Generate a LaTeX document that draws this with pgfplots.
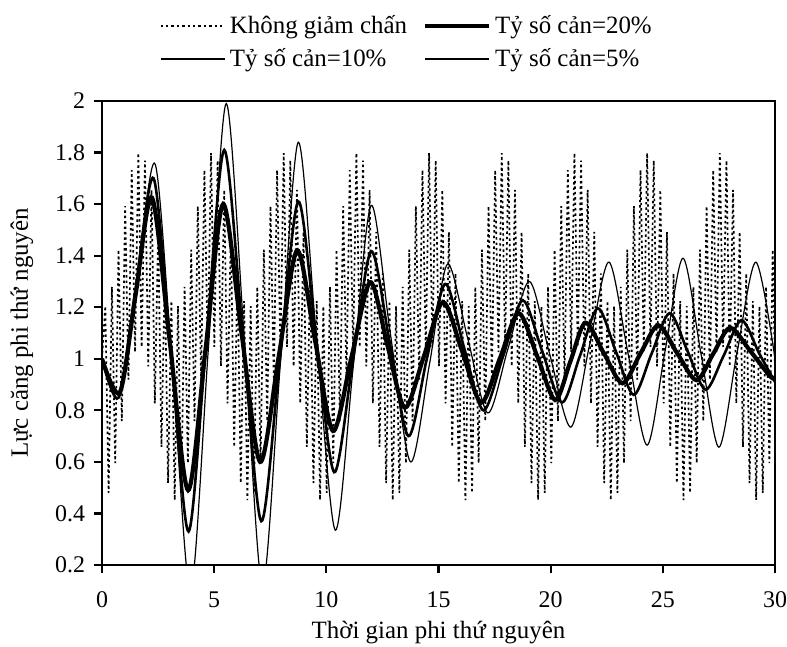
\documentclass[border=0pt]{standalone}
\usepackage{fontspec}
\setmainfont{Liberation Serif}
\usepackage{pgfplots}
\pgfplotsset{compat=1.18}

\begin{document}
\begin{tikzpicture}
\path[use as bounding box] (-51bp,-41bp) rectangle (342.5bp,282.5bp);
\begin{axis}[
    scale only axis,
    width=336.5bp, height=232bp,
    xmin=0, xmax=30, ymin=0.2, ymax=2,
    xtick={0,5,...,30},
    ytick={0.2,0.4,...,2.01},
    tick align=outside,
    xtick pos=left, ytick pos=left,
    major tick length=4bp,
    tick style={line width=1.1bp, black},
    axis line style={line width=1.4bp},
    /pgf/number format/assume math mode=true,
    ticklabel style={font=\fontsize{12}{14}\selectfont},
    xticklabel style={yshift=-6bp},
    yticklabel style={xshift=-1bp},
    xlabel={Thời gian phi thứ nguyên},
    ylabel={Lực căng phi thứ nguyên},
    label style={font=\fontsize{12.5}{15}\selectfont},
    ylabel style={at={(axis description cs:-0.119,0.5)}, anchor=center},
    xlabel style={at={(axis description cs:0.5,-0.145)}, anchor=center},
    no markers,
    legend columns=2,
    legend cell align=left,
    legend style={draw=none, fill=none, font=\fontsize{12.5}{15}\selectfont,
        at={(axis description cs:0.454,1.05)}, anchor=south,
        row sep=2pt,
        /tikz/every even column/.append style={column sep=6bp}},
    legend image code/.code={\draw[#1] (0bp,0bp) -- (32bp,0bp);},
]
% khong giam chan (undamped)
\addplot[black, line width=0.85bp, dash pattern=on 1.2bp off 1.5bp] coordinates {
(0.000,1.000) (0.147,1.204) (0.295,0.480) (0.442,1.279) (0.589,0.595) (0.736,1.423) (0.884,0.758) (1.031,1.592) (1.178,0.919) (1.325,1.732) (1.473,1.026) (1.620,1.798) (1.767,1.046) (1.915,1.769) (2.062,0.971) (2.209,1.655) (2.356,0.827) (2.504,1.492) (2.651,0.658) (2.798,1.331) (2.945,0.518) (3.093,1.224)
(3.240,0.452) (3.387,1.204) (3.535,0.480) (3.682,1.279) (3.829,0.595) (3.976,1.423) (4.124,0.758) (4.271,1.592) (4.418,0.919) (4.565,1.732) (4.713,1.026) (4.860,1.798) (5.007,1.046) (5.155,1.769) (5.302,0.971) (5.449,1.655) (5.596,0.827) (5.744,1.492) (5.891,0.658) (6.038,1.331) (6.185,0.518) (6.333,1.224)
(6.480,0.452) (6.627,1.204) (6.775,0.480) (6.922,1.279) (7.069,0.595) (7.216,1.423) (7.364,0.758) (7.511,1.592) (7.658,0.919) (7.805,1.732) (7.953,1.026) (8.100,1.798) (8.247,1.046) (8.395,1.769) (8.542,0.971) (8.689,1.655) (8.836,0.827) (8.984,1.492) (9.131,0.658) (9.278,1.331) (9.425,0.518) (9.573,1.224)
(9.720,0.452) (9.867,1.204) (10.015,0.480) (10.162,1.279) (10.309,0.595) (10.456,1.423) (10.604,0.758) (10.751,1.592) (10.898,0.919) (11.045,1.732) (11.193,1.026) (11.340,1.798) (11.487,1.046) (11.635,1.769) (11.782,0.971) (11.929,1.655) (12.076,0.827) (12.224,1.492) (12.371,0.658) (12.518,1.331) (12.665,0.518) (12.813,1.224)
(12.960,0.452) (13.107,1.204) (13.255,0.480) (13.402,1.279) (13.549,0.595) (13.696,1.423) (13.844,0.758) (13.991,1.592) (14.138,0.919) (14.285,1.732) (14.433,1.026) (14.580,1.798) (14.727,1.046) (14.875,1.769) (15.022,0.971) (15.169,1.655) (15.316,0.827) (15.464,1.492) (15.611,0.658) (15.758,1.331) (15.905,0.518) (16.053,1.224)
(16.200,0.452) (16.347,1.204) (16.495,0.480) (16.642,1.279) (16.789,0.595) (16.936,1.423) (17.084,0.758) (17.231,1.592) (17.378,0.919) (17.525,1.732) (17.673,1.026) (17.820,1.798) (17.967,1.046) (18.115,1.769) (18.262,0.971) (18.409,1.655) (18.556,0.827) (18.704,1.492) (18.851,0.658) (18.998,1.331) (19.145,0.518) (19.293,1.224)
(19.440,0.452) (19.587,1.204) (19.735,0.480) (19.882,1.279) (20.029,0.595) (20.176,1.423) (20.324,0.758) (20.471,1.592) (20.618,0.919) (20.765,1.732) (20.913,1.026) (21.060,1.798) (21.207,1.046) (21.355,1.769) (21.502,0.971) (21.649,1.655) (21.796,0.827) (21.944,1.492) (22.091,0.658) (22.238,1.331) (22.385,0.518) (22.533,1.224)
(22.680,0.452) (22.827,1.204) (22.975,0.480) (23.122,1.279) (23.269,0.595) (23.416,1.423) (23.564,0.758) (23.711,1.592) (23.858,0.919) (24.005,1.732) (24.153,1.026) (24.300,1.798) (24.447,1.046) (24.595,1.769) (24.742,0.971) (24.889,1.655) (25.036,0.827) (25.184,1.492) (25.331,0.658) (25.478,1.331) (25.625,0.518) (25.773,1.224)
(25.920,0.452) (26.067,1.204) (26.215,0.480) (26.362,1.279) (26.509,0.595) (26.656,1.423) (26.804,0.758) (26.951,1.592) (27.098,0.919) (27.245,1.732) (27.393,1.026) (27.540,1.798) (27.687,1.046) (27.835,1.769) (27.982,0.971) (28.129,1.655) (28.276,0.827) (28.424,1.492) (28.571,0.658) (28.718,1.331) (28.865,0.518) (29.013,1.224)
(29.160,0.452) (29.307,1.204) (29.455,0.480) (29.602,1.279) (29.749,0.595) (29.896,1.423) (30.044,0.758)
};
\addlegendentry{Không giảm chấn}
% ty so can 20%
\addplot[black, line width=2.1bp, smooth] coordinates {
(0,1.0) (0.8,0.87) (1.5,1.25) (2.23,1.625) (3.03,1.06) (3.84,0.49) (4.62,1.04) (5.4,1.60) (6.22,1.10) (7.05,0.60) (7.88,1.01) (8.7,1.42) (9.5,1.07) (10.3,0.72) (11.13,1.01) (11.96,1.297) (12.73,1.05) (13.5,0.81) (14.35,1.01) (15.2,1.22) (16.05,1.03) (16.9,0.83) (17.73,1.0) (18.57,1.177) (19.4,1.01) (20.2,0.84) (20.88,0.99) (21.55,1.14) (22.38,1.02) (23.2,0.905) (24.0,1.02) (24.8,1.13) (25.65,1.02) (26.5,0.917) (27.25,1.02) (28.0,1.12) (28.9,1.03) (29.8,0.93) (30,0.93)
};
\addlegendentry{Tỷ số cản=20\%}
% ty so can 10%
\addplot[black, line width=1.3bp, smooth] coordinates {
(0,1.0) (0.75,0.85) (1.5,1.27) (2.3,1.70) (3.08,1.02) (3.86,0.33) (4.65,1.07) (5.45,1.81) (6.28,1.09) (7.1,0.37) (7.92,0.99) (8.75,1.61) (9.55,1.08) (10.35,0.56) (11.18,0.99) (12.0,1.417) (12.83,1.06) (13.66,0.70) (14.48,1.0) (15.3,1.29) (16.15,1.04) (17.0,0.80) (17.88,1.01) (18.75,1.227) (19.62,1.03) (20.5,0.83) (21.3,1.01) (22.1,1.196) (22.9,1.03) (23.7,0.86) (24.5,1.02) (25.3,1.177) (26.1,1.03) (26.9,0.88) (27.7,1.01) (28.5,1.15) (29.3,1.02) (30,0.91)
};
\addlegendentry{Tỷ số cản=10\%}
% ty so can 5%
\addplot[black, line width=0.6bp, smooth] coordinates {
(0,1.0) (0.75,0.85) (1.55,1.30) (2.37,1.755) (3.15,0.95) (3.95,0.10) (4.75,1.05) (5.54,1.99) (6.35,1.07) (7.15,0.12) (7.95,0.98) (8.75,1.84) (9.55,1.09) (10.4,0.335) (11.2,0.97) (12.0,1.595) (12.85,1.10) (13.75,0.60) (14.6,0.98) (15.4,1.367) (16.3,1.08) (17.2,0.79) (18.1,1.04) (19.05,1.30) (19.95,1.02) (20.9,0.735) (21.75,1.06) (22.6,1.375) (23.45,1.02) (24.3,0.665) (25.1,1.03) (25.9,1.39) (26.7,1.02) (27.5,0.657) (28.3,1.02) (29.15,1.375) (30,1.0)
};
\addlegendentry{Tỷ số cản=5\%}
\end{axis}
\end{tikzpicture}
\end{document}
